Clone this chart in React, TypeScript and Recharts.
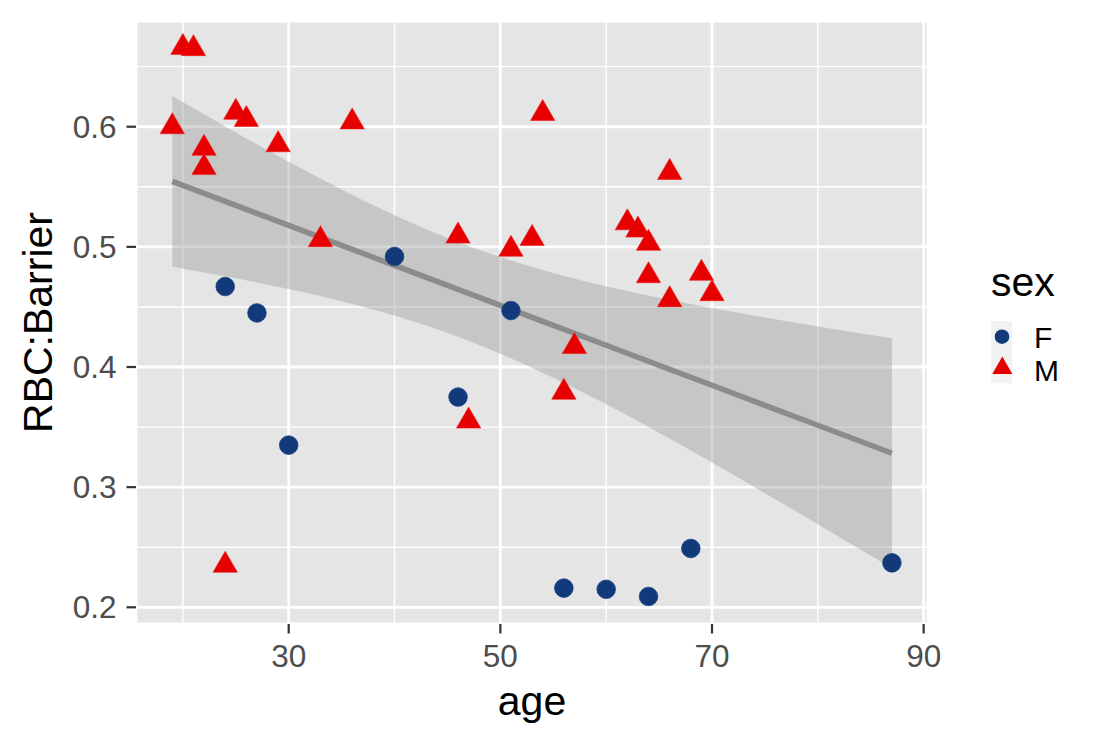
import React from 'react';
import {
  ComposedChart,
  XAxis,
  YAxis,
  CartesianGrid,
  Area,
  Line,
  Scatter,
} from 'recharts';

const FONT = '"Liberation Sans", Arial, Helvetica, sans-serif';

// Female (circles)
const femaleAge = [24, 27, 30, 40, 46, 51, 56, 60, 64, 68, 87];
const femaleRbc = [0.467, 0.445, 0.335, 0.492, 0.375, 0.447, 0.216, 0.215, 0.209, 0.249, 0.237];

// Male (triangles)
const maleAge = [19, 20, 21, 22, 22, 24, 25, 26, 29, 33, 36, 46, 47, 51, 53, 54, 56, 57, 62, 63, 64, 64, 66, 66, 69, 70];
const maleRbc = [0.6, 0.666, 0.665, 0.582, 0.566, 0.235, 0.612, 0.606, 0.585, 0.506, 0.604, 0.509, 0.355, 0.498, 0.507, 0.611, 0.379, 0.417, 0.52, 0.514, 0.503, 0.476, 0.562, 0.456, 0.478, 0.461];

// Linear fit with confidence band
const fitAge = [19, 25, 30, 35, 40, 46, 50, 55, 60, 65, 70, 75, 80, 87];
const fitValue = [0.5545, 0.5345, 0.5179, 0.5013, 0.4846, 0.4646, 0.4513, 0.4347, 0.4181, 0.4014, 0.3848, 0.3681, 0.3515, 0.3282];
const bandLower = [0.4835, 0.4738, 0.4649, 0.4548, 0.4428, 0.4251, 0.4111, 0.3911, 0.369, 0.3452, 0.3205, 0.295, 0.2692, 0.2324];
const bandUpper = [0.6255, 0.5952, 0.5709, 0.5478, 0.5264, 0.5041, 0.4915, 0.4783, 0.4672, 0.4576, 0.4491, 0.4412, 0.4338, 0.424];

const xTicks = [30, 50, 70, 90];
const yTicks = [0.2, 0.3, 0.4, 0.5, 0.6];
const xMinor = [20, 40, 60, 80];
const yMinor = [0.25, 0.35, 0.45, 0.55, 0.65];

const femaleData = femaleAge.map((a, i) => ({ age: a, rbc: femaleRbc[i] }));
const maleData = maleAge.map((a, i) => ({ age: a, rbc: maleRbc[i] }));
const bandData = fitAge.map((a, i) => ({ age: a, fit: fitValue[i], band: [bandLower[i], bandUpper[i]] }));

const BLUE = '#123A7B';
const RED = '#E60000';

const CircleShape = (props: any) => {
  const { cx, cy } = props;
  if (cx == null || cy == null) return null;
  return <circle cx={cx} cy={cy} r={9.3} fill={BLUE} stroke="#1B4284" strokeWidth={0.8} />;
};

const TriangleShape = (props: any) => {
  const { cx, cy } = props;
  if (cx == null || cy == null) return null;
  const r = 14;
  const hx = 12.15;
  return (
    <polygon
      points={`${cx},${cy - r} ${cx + hx},${cy + r / 2} ${cx - hx},${cy + r / 2}`}
      fill={RED}
      stroke="#EE1A1A"
      strokeWidth={0.6}
    />
  );
};

export default function App() {
  return (
    <div style={{ position: 'absolute', left: 0, top: 0, width: 1104, height: 745, background: '#fff' }}>
      <ComposedChart
        width={1104}
        height={745}
        data={bandData}
        margin={{ top: 21, right: 176, bottom: 0, left: 0 }}
      >
        <CartesianGrid fill="#E5E5E5" fillOpacity={1} stroke="#FFFFFF" strokeWidth={2.8} />
        <CartesianGrid
          horizontalValues={yMinor}
          verticalValues={xMinor}
          stroke="#FFFFFF"
          strokeWidth={1.4}
        />
        <XAxis
          type="number"
          dataKey="age"
          domain={[15.57, 90.41]}
          ticks={xTicks}
          allowDataOverflow
          height={121}
          axisLine={false}
          tickLine={{ stroke: '#333333', strokeWidth: 2.2 }}
          tickSize={9.5}
          tickMargin={11.5}
          tick={{ fill: '#4D4D4D', fontSize: 31.5, fontFamily: FONT }}
          interval={0}
        />
        <YAxis
          type="number"
          domain={[0.1861, 0.688]}
          ticks={yTicks}
          allowDataOverflow
          width={136}
          axisLine={false}
          tickLine={{ stroke: '#333333', strokeWidth: 2.2 }}
          tickSize={9.5}
          tickMargin={10}
          tick={{ fill: '#4D4D4D', fontSize: 31.5, fontFamily: FONT }}
          tickFormatter={(v: number) => v.toFixed(1)}
          interval={0}
        />
        <Area
          type="monotone"
          dataKey="band"
          fill="#999999"
          fillOpacity={0.4}
          stroke="none"
          isAnimationActive={false}
          activeDot={false}
          dot={false}
        />
        <Line
          type="linear"
          dataKey="fit"
          stroke="#8C8C8C"
          strokeWidth={5.5}
          dot={false}
          activeDot={false}
          isAnimationActive={false}
        />
        <Scatter data={femaleData} dataKey="rbc" shape={CircleShape} isAnimationActive={false} />
        <Scatter data={maleData} dataKey="rbc" shape={TriangleShape} isAnimationActive={false} />
      </ComposedChart>
      <svg
        width={1104}
        height={745}
        style={{ position: 'absolute', left: 0, top: 0, pointerEvents: 'none' }}
      >
        <text x={532} y={715} textAnchor="middle" fontFamily={FONT} fontSize={41} fill="#000">
          age
        </text>
        <text
          x={51.7}
          y={322.5}
          textAnchor="middle"
          fontFamily={FONT}
          fontSize={41}
          fill="#000"
          transform="rotate(-90 51.7 322.5)"
        >
          RBC:Barrier
        </text>
        <text x={991} y={295.5} fontFamily={FONT} fontSize={41} fill="#000">
          sex
        </text>
        <rect x={991} y={321} width={21.3} height={62.3} fill="#F2F2F2" />
        <circle cx={1002} cy={336.7} r={7.3} fill={BLUE} />
        <polygon points="1002.3,356.6 1012.3,373.9 992.3,373.9" fill={RED} />
        <text x={1034} y={347.5} fontFamily={FONT} fontSize={30} fill="#000">
          F
        </text>
        <text x={1034} y={380.5} fontFamily={FONT} fontSize={30} fill="#000">
          M
        </text>
      </svg>
    </div>
  );
}
